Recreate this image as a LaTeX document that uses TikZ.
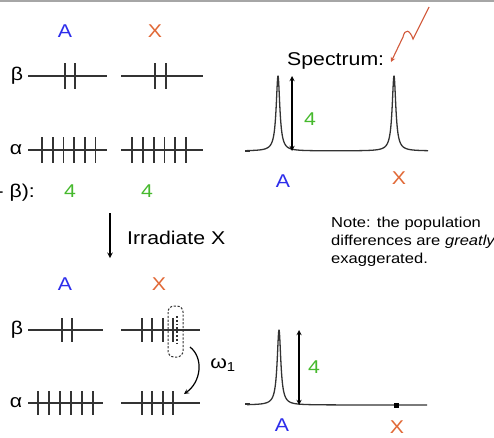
\documentclass[tikz,border=0pt]{standalone}
\usepackage{fontspec}
\setmainfont[FakeStretch=1.15]{Liberation Sans}
\definecolor{azulA}{RGB}{45,45,235}
\definecolor{naranjaX}{RGB}{225,105,55}
\definecolor{verde}{RGB}{70,185,45}
\definecolor{rojo}{RGB}{210,90,60}
\tikzset{
  nivel/.style={line width=1.5pt, black!80},
  espin/.style={line width=1.8pt, black!80},
  espectro/.style={line width=1.3pt, black!80, line join=round},
  etiqueta/.style={font=\fontsize{18.5}{20}\selectfont, inner sep=0pt},
}
\begin{document}
\begin{tikzpicture}[x=1pt, y=-1pt, >=stealth]
    \useasboundingbox (0,0) rectangle (494,437);

    % 1. Borde superior
    \draw[gray!70, line width=2pt] (0,0.5) -- (494,0.5);

    % 2. Poblaciones iniciales (A y X)
    \node[etiqueta, azulA] (A1) at (65,31) {A};
    \node[etiqueta, naranjaX] (X1) at (155,31) {X};
    \node[etiqueta] (b1) at (17,76) {β};
    \node[etiqueta] (a1) at (16,150) {α};
    \draw[nivel] (28,76) -- (107,76);
    \foreach \x in {65,75} {
        \draw[espin] (\x,63) -- (\x,89);
    }
    \draw[nivel] (121,76) -- (203,76);
    \foreach \x in {155,166} {
        \draw[espin] (\x,63) -- (\x,89);
    }
    \draw[nivel] (28,150) -- (107,150);
    \foreach \x in {42,52.7,...,96} {
        \draw[espin] (\x,137) -- (\x,163);
    }
    \draw[nivel] (121,150) -- (203,150);
    \foreach \x in {132,142.8,...,187} {
        \draw[espin] (\x,137) -- (\x,163);
    }
    \draw[nivel] (245,151) -- (250,151);

    % Diferencias de poblacion
    \node[etiqueta, anchor=base east] (dif) at (35,197) {- β):};
    \node[etiqueta, verde] (d1) at (70,191) {4};
    \node[etiqueta, verde] (d2) at (147,191) {4};

    % 3. Irradiacion de X
    \coordinate (irrIni) at (110,213);
    \coordinate (irrFin) at (110,258);
    \draw[->, line width=1.4pt] (irrIni) -- (irrFin);
    \node[etiqueta, anchor=west] (irr) at (127,238) {Irradiate X};

    % 4. Poblaciones tras la irradiacion
    \node[etiqueta, azulA] (A2) at (65,284) {A};
    \node[etiqueta, naranjaX] (X2) at (159,284) {X};
    \node[etiqueta] (b2) at (17,330) {β};
    \node[etiqueta] (a2) at (16,403) {α};
    \draw[nivel] (28,330) -- (103,330);
    \foreach \x in {62,72} {
        \draw[espin] (\x,318) -- (\x,342);
    }
    \draw[nivel] (121,330) -- (200,330);
    \foreach \x in {142,152.3,...,174} {
        \draw[espin] (\x,318) -- (\x,342);
    }
    \draw[espin, dotted] (177,316) -- (177,344);
    \draw[black!80, line width=1pt, dash pattern=on 2.2pt off 1.6pt, rounded corners=6pt]
        (168,306) rectangle (183,357);
    \draw[nivel] (28,403) -- (103,403);
    \foreach \x in {38,49,...,93} {
        \draw[espin] (\x,391) -- (\x,415);
    }
    \draw[nivel] (121,403) -- (200,403);
    \foreach \x in {142,152.3,...,174} {
        \draw[espin] (\x,391) -- (\x,415);
    }
    \draw[nivel] (245,404) -- (250,404);

    % Transicion omega_1
    \coordinate (omIni) at (190,347);
    \coordinate (omFin) at (184,394);
    \draw[->, line width=1.2pt] (omIni) .. controls (204,358) and (201,382) .. (omFin);
    \node[etiqueta] (om) at (223,365) {ω\textsubscript{1}};

    % 5. Espectro inicial
    \node[etiqueta, anchor=base west] (esp) at (287,65) {Spectrum:};
    \coordinate (rayoIni) at (429,7);
    \coordinate (rayoFin) at (391,62);
    \draw[->, rojo, line width=1.1pt] (rayoIni) -- (413,39)
        .. controls (410,30) and (405,28) .. (403,37) -- (rayoFin);
    \draw[espectro] plot[domain=247:428, samples=800]
        (\x, {151 - 75/(1+((\x-278)/2.2)^2) - 75/(1+((\x-394)/2.2)^2)});
    \coordinate (h1a) at (292,76);
    \coordinate (h1b) at (292,151);
    \draw[<->, line width=1.3pt] (h1a) -- (h1b);
    \node[etiqueta, verde] (n1) at (310,119) {4};
    \node[etiqueta, azulA] (A3) at (283,181) {A};
    \node[etiqueta, naranjaX] (X3) at (399,178) {X};

    % 6. Nota
    \node[anchor=north west, align=left, inner sep=0pt,
          font=\fontsize{14.4}{18}\selectfont] (nota) at (331,217)
        {Note: the population\\differences are \textit{greatly}\\exaggerated.};

    % 7. Espectro tras la irradiacion
    \draw[espectro] plot[domain=247:427, samples=800]
        (\x, {405 - 75/(1+((\x-279)/2.2)^2)});
    \coordinate (h2a) at (299,330);
    \coordinate (h2b) at (299,405);
    \draw[<->, line width=1.3pt] (h2a) -- (h2b);
    \node[etiqueta, verde] (n2) at (314,367) {4};
    \fill[black] (393.5,402.5) rectangle (398.5,407.5);
    \node[etiqueta, azulA] (A4) at (282,425) {A};
    \node[etiqueta, naranjaX] (X4) at (397,427) {X};

\end{tikzpicture}
\end{document}
